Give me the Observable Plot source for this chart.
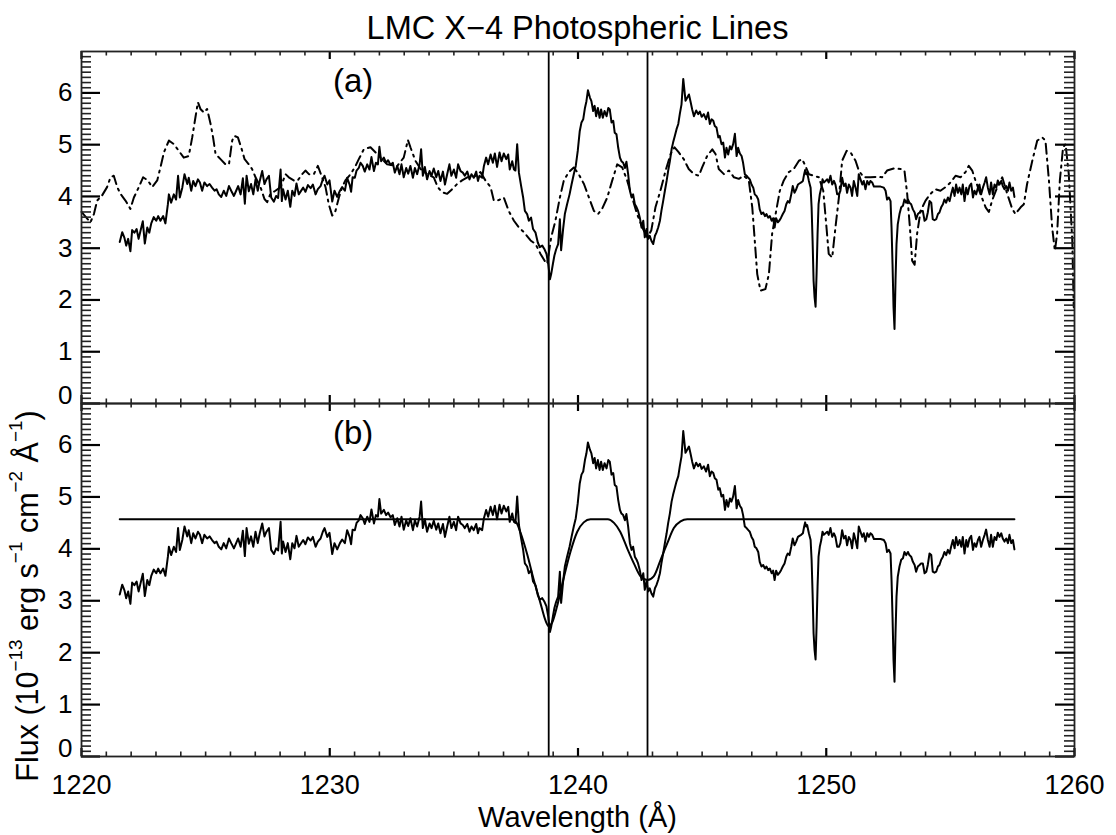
<!DOCTYPE html>
<html><head><meta charset="utf-8">
<script src="https://cdn.jsdelivr.net/npm/d3@7"></script>
<script src="https://cdn.jsdelivr.net/npm/@observablehq/plot@0.6"></script>
<style>
body{margin:0;background:#fff;}
#wrap{position:relative;width:1116px;height:835px;font-family:"Liberation Sans",Arial,Helvetica,sans-serif;color:#000;}
#wrap svg{position:absolute;left:0;top:0;}
.lbl{position:absolute;text-align:center;white-space:nowrap;pointer-events:none;}
#title{left:81px;width:993px;top:11px;font-size:32.5px;line-height:34px;}
#xlab{left:81px;width:993px;top:801px;font-size:29px;line-height:32px;}
#ylab{left:-183px;width:420px;top:579px;height:34px;font-size:30.5px;line-height:34px;transform:rotate(-90deg);transform-origin:50% 50%;}
#ylab sup{font-size:62%;vertical-align:0;position:relative;top:-0.85em;}
</style></head>
<body>
<div id="wrap">
  <div class="lbl" id="title">LMC X−4 Photospheric Lines</div>
  <div class="lbl" id="xlab">Wavelength (Å)</div>
  <div class="lbl" id="ylab">Flux (10<sup>−13</sup> erg s<sup>−1</sup> cm<sup>−2</sup> Å<sup>−1</sup>)</div>
</div>
<script>
// ---------- data ----------
const obsWave = [
1221.54,1221.64,1221.73,1221.80,1221.88,1221.97,1222.04,1222.13,1222.22,1222.30,1222.38,1222.47,1222.55,1222.65,1222.73,1222.81,1222.91,1223.01,1223.09,1223.18,
1223.29,1223.38,1223.48,1223.52,1223.61,1223.72,1223.81,1223.89,1223.96,1224.06,1224.15,1224.26,1224.32,1224.42,1224.50,1224.59,1224.69,1224.77,1224.86,1224.95,
1225.06,1225.16,1225.26,1225.36,1225.44,1225.53,1225.63,1225.73,1225.83,1225.94,1226.03,1226.14,1226.23,1226.31,1226.41,1226.50,1226.58,1226.65,1226.74,1226.83,
1226.92,1227.01,1227.10,1227.18,1227.28,1227.37,1227.45,1227.55,1227.64,1227.75,1227.84,1227.92,1228.02,1228.07,1228.12,1228.22,1228.31,1228.41,1228.49,1228.58,
1228.66,1228.75,1228.93,1229.02,1229.12,1229.23,1229.32,1229.43,1229.52,1229.63,1229.72,1229.79,1229.90,1229.99,1230.10,1230.19,1230.30,1230.41,1230.50,1230.61,
1230.70,1230.80,1230.86,1230.92,1231.01,1231.08,1231.17,1231.24,1231.33,1231.41,1231.51,1231.60,1231.68,1231.78,1231.86,1231.94,1232.00,1232.07,1232.18,1232.27,
1232.35,1232.45,1232.54,1232.62,1232.72,1232.81,1232.89,1232.98,1233.08,1233.16,1233.25,1233.35,1233.43,1233.52,1233.62,1233.68,1233.75,1233.83,1233.92,1234.02,
1234.10,1234.19,1234.29,1234.37,1234.46,1234.56,1234.64,1234.73,1234.82,1234.90,1235.00,1235.09,1235.17,1235.27,1235.36,1235.44,1235.54,1235.63,1235.71,1235.80,
1235.90,1235.97,1236.03,1236.14,1236.21,1236.30,1236.38,1236.48,1236.57,1236.65,1236.74,1236.84,1236.92,1237.01,1237.11,1237.19,1237.25,1237.35,1237.42,1237.48,
1237.55,1237.62,1237.71,1237.79,1237.86,1237.95,1238.02,1238.11,1238.19,1238.29,1238.38,1238.46,1238.56,1238.65,1238.73,1238.80,1238.87,1238.92,1238.99,1239.05,
1239.12,1239.20,1239.27,1239.32,1239.40,1239.47,1239.56,1239.66,1239.74,1239.83,1239.91,1239.99,1240.07,1240.14,1240.21,1240.28,1240.34,1240.40,1240.48,1240.54,
1240.61,1240.67,1240.73,1240.80,1240.87,1240.93,1241.00,1241.07,1241.15,1241.22,1241.28,1241.35,1241.42,1241.48,1241.55,1241.62,1241.69,1241.75,1241.82,1241.89,
1241.95,1242.02,1242.09,1242.16,1242.22,1242.29,1242.36,1242.42,1242.49,1242.56,1242.63,1242.69,1242.76,1242.83,1242.89,1242.96,1243.03,1243.10,1243.16,1243.23,
1243.30,1243.36,1243.43,1243.50,1243.57,1243.63,1243.70,1243.77,1243.83,1243.90,1243.97,1244.04,1244.10,1244.17,1244.24,1244.33,1244.47,1244.53,1244.60,1244.67,
1244.76,1244.84,1244.91,1244.98,1245.07,1245.16,1245.24,1245.31,1245.38,1245.45,1245.51,1245.58,1245.65,1245.71,1245.78,1245.85,1245.92,1245.98,1246.05,1246.12,
1246.18,1246.25,1246.32,1246.39,1246.45,1246.52,1246.59,1246.65,1246.72,1246.79,1246.86,1246.92,1246.99,1247.06,1247.12,1247.19,1247.26,1247.32,1247.39,1247.46,
1247.53,1247.59,1247.66,1247.73,1247.80,1247.86,1247.92,1247.98,1248.05,1248.12,1248.18,1248.25,1248.32,1248.39,1248.45,1248.52,1248.59,1248.65,1248.72,1248.79,
1248.86,1248.92,1248.99,1249.06,1249.11,1249.15,1249.19,1249.23,1249.30,1249.37,1249.41,1249.45,1249.49,1249.53,1249.57,1249.61,1249.65,1249.69,1249.74,1249.80,
1249.85,1249.90,1249.97,1250.04,1250.10,1250.17,1250.24,1250.31,1250.37,1250.44,1250.51,1250.57,1250.64,1250.71,1250.78,1250.84,1250.91,1250.98,1251.04,1251.11,
1251.18,1251.25,1251.31,1251.38,1251.45,1251.51,1251.58,1251.65,1251.72,1251.78,1251.85,1251.92,1252.05,1252.19,1252.32,1252.39,1252.45,1252.52,1252.59,1252.63,
1252.67,1252.71,1252.75,1252.79,1252.83,1252.88,1252.95,1253.02,1253.09,1253.15,1253.22,1253.29,1253.35,1253.42,1253.49,1253.56,1253.62,1253.69,1253.76,1253.82,
1253.89,1253.96,1254.03,1254.09,1254.16,1254.23,1254.29,1254.36,1254.43,1254.50,1254.56,1254.63,1254.70,1254.76,1254.83,1254.90,1254.97,1255.03,1255.10,1255.17,
1255.23,1255.30,1255.37,1255.44,1255.50,1255.57,1255.64,1255.70,1255.77,1255.84,1255.91,1255.97,1256.04,1256.11,1256.17,1256.24,1256.31,1256.38,1256.44,1256.51,
1256.58,1256.64,1256.71,1256.78,1256.85,1256.91,1256.98,1257.05,1257.11,1257.18,1257.25,1257.32,1257.38,1257.45,1257.52,1257.58];
const obsFlux = [
3.12,3.31,3.20,3.05,3.18,2.94,3.35,3.30,3.37,3.18,3.34,3.52,3.09,3.40,3.30,3.48,3.60,3.53,3.62,3.53,
3.62,3.48,3.85,4.04,3.88,4.04,3.94,4.40,3.98,4.17,4.43,4.24,4.36,4.11,4.30,4.20,4.33,4.27,4.11,4.27,
4.20,4.24,4.17,4.11,4.14,4.04,3.99,4.11,4.01,4.20,4.11,4.01,4.11,4.20,4.04,4.35,3.86,4.40,4.10,4.24,
4.04,4.33,4.11,4.30,4.49,4.24,4.33,4.40,3.98,3.90,4.01,3.97,4.52,3.91,4.14,3.94,4.11,3.80,4.11,4.01,
4.25,4.04,4.17,4.09,4.22,4.16,4.23,4.04,4.14,4.20,4.33,4.40,4.23,4.31,3.90,4.11,3.99,4.11,4.18,4.11,
4.36,4.23,4.09,4.37,4.36,4.50,4.55,4.65,4.59,4.48,4.62,4.52,4.76,4.49,4.65,4.62,4.96,4.68,4.75,4.65,
4.70,4.61,4.65,4.46,4.59,4.43,4.62,4.37,4.55,4.44,4.59,4.36,4.55,4.43,4.62,4.91,4.40,4.57,4.33,4.49,
4.40,4.54,4.37,4.49,4.30,4.48,4.23,4.43,4.62,4.40,4.52,4.36,4.62,4.49,4.46,4.40,4.48,4.33,4.43,4.36,
4.48,4.30,4.40,4.36,4.59,4.75,4.62,4.81,4.65,4.83,4.57,4.85,4.68,4.83,4.72,4.81,4.52,4.68,4.52,4.50,
5.01,4.46,4.20,3.98,3.72,3.66,3.53,3.59,3.37,3.30,3.11,3.02,3.05,2.98,2.89,2.70,2.40,2.50,2.70,2.86,
2.98,3.08,3.56,2.96,3.37,3.66,3.85,4.04,4.23,4.43,4.59,4.88,5.26,5.43,5.49,5.71,5.84,6.05,5.91,5.84,
5.65,5.75,5.55,5.71,5.52,5.68,5.52,5.65,5.55,5.71,5.68,5.43,5.46,5.23,5.20,4.94,4.75,4.68,4.65,4.55,
4.67,4.43,4.11,3.98,4.04,3.85,3.79,3.72,3.59,3.40,3.53,3.21,3.37,3.18,3.24,3.14,3.08,3.24,3.30,3.40,
3.53,3.72,3.91,4.11,4.30,4.49,4.68,4.91,5.04,5.17,5.30,5.40,5.59,5.78,6.27,5.85,5.97,5.84,5.68,5.55,
5.66,5.59,5.64,5.54,5.59,5.49,5.62,5.40,5.49,5.46,5.36,5.33,5.14,5.17,5.01,5.04,4.75,4.94,4.81,4.97,
4.91,5.01,5.21,4.78,4.94,4.83,4.78,4.65,4.43,4.40,4.36,4.33,4.23,4.17,4.04,4.01,3.94,3.75,3.66,3.69,
3.62,3.66,3.59,3.62,3.53,3.58,3.40,3.58,3.50,3.54,3.59,3.66,3.72,3.85,3.91,3.88,4.04,4.20,4.07,4.14,
4.23,4.25,4.27,4.30,4.43,4.51,4.43,4.46,4.30,4.17,3.79,3.14,2.37,2.05,1.87,2.50,3.27,3.85,4.04,4.17,
4.33,4.27,4.30,4.33,4.27,4.40,4.23,4.30,4.23,4.04,4.04,4.11,4.36,4.20,4.25,4.07,4.23,4.17,4.01,4.30,
4.17,4.01,4.43,4.33,4.23,4.30,4.14,4.30,4.23,4.30,4.27,4.19,4.19,4.19,4.17,4.11,3.94,3.98,3.91,3.40,
2.69,1.86,1.44,2.37,3.08,3.46,3.66,3.79,3.82,3.94,3.88,3.94,3.88,3.85,3.75,3.69,3.56,3.66,3.69,3.72,
3.72,3.53,3.56,3.69,3.91,3.88,3.56,3.54,3.56,3.66,3.69,3.79,3.85,3.94,3.88,3.98,3.91,4.04,4.17,4.01,
4.23,4.07,4.17,4.04,4.23,3.91,4.17,4.04,4.20,4.25,3.98,4.11,4.04,4.17,4.23,4.04,4.17,4.27,4.37,4.17,
4.04,4.27,4.04,4.23,4.17,4.31,4.23,4.30,4.20,4.14,4.20,4.11,4.27,4.11,4.17,3.99];

const cmpWave = [
1220.00,1220.36,1220.50,1220.63,1220.83,1221.03,1221.17,1221.30,1221.44,1221.57,1221.77,1221.97,1222.11,1222.31,1222.48,1222.67,1222.85,1223.05,1223.18,1223.32,
1223.52,1223.72,1223.92,1224.12,1224.32,1224.46,1224.59,1224.69,1224.79,1224.93,1225.06,1225.20,1225.30,1225.40,1225.60,1225.80,1225.94,1226.07,1226.16,1226.30,
1226.43,1226.57,1226.74,1226.87,1227.01,1227.21,1227.37,1227.48,1227.61,1227.81,1228.02,1228.22,1228.35,1228.55,1228.71,1228.89,1229.02,1229.16,1229.36,1229.52,
1229.69,1229.83,1229.96,1230.10,1230.23,1230.37,1230.50,1230.63,1230.84,1231.04,1231.17,1231.37,1231.64,1231.91,1232.31,1232.72,1232.98,1233.15,1233.25,1233.45,
1233.66,1233.92,1234.19,1234.35,1234.53,1234.73,1234.93,1235.13,1235.33,1235.54,1235.80,1236.07,1236.27,1236.48,1236.61,1236.81,1237.01,1237.21,1237.42,1237.62,
1237.82,1238.09,1238.29,1238.49,1238.69,1238.76,1238.92,1239.09,1239.27,1239.43,1239.63,1239.83,1240.03,1240.24,1240.44,1240.64,1240.81,1240.97,1241.18,1241.38,
1241.58,1241.78,1241.98,1242.18,1242.38,1242.59,1242.79,1242.95,1243.12,1243.32,1243.53,1243.73,1243.89,1244.06,1244.26,1244.46,1244.67,1244.87,1245.00,1245.20,
1245.41,1245.54,1245.67,1245.88,1246.08,1246.28,1246.48,1246.68,1246.88,1247.02,1247.12,1247.22,1247.35,1247.55,1247.69,1247.82,1247.96,1248.13,1248.29,1248.49,
1248.69,1248.90,1249.03,1249.16,1249.30,1249.50,1249.70,1249.88,1250.01,1250.10,1250.24,1250.37,1250.51,1250.64,1250.82,1250.98,1251.18,1251.31,1251.51,1251.78,
1252.05,1252.25,1252.45,1252.72,1252.99,1253.15,1253.26,1253.37,1253.46,1253.56,1253.66,1253.80,1254.00,1254.20,1254.40,1254.60,1254.80,1255.01,1255.21,1255.41,
1255.61,1255.74,1255.88,1256.01,1256.21,1256.42,1256.55,1256.68,1256.89,1257.09,1257.29,1257.49,1257.62,1257.83,1257.96,1258.09,1258.30,1258.50,1258.70,1258.83,
1258.97,1259.10,1259.21,1259.30,1259.41,1259.54,1259.64,1259.77,1259.91,1259.97];
const cmpFlux = [
3.70,3.50,3.66,3.92,4.02,4.18,4.37,4.40,4.18,4.05,3.92,3.76,3.98,4.18,4.37,4.31,4.18,4.31,4.56,4.85,
5.08,5.01,4.88,4.75,4.78,5.14,5.53,5.82,5.69,5.62,5.69,5.40,5.14,4.82,4.72,4.62,4.62,5.08,5.17,5.14,
4.95,4.72,4.62,4.53,4.37,4.18,3.95,3.89,4.05,4.11,4.18,4.43,4.37,4.31,4.31,4.43,4.50,4.43,4.43,4.59,
4.37,4.18,3.85,3.63,3.72,3.98,4.18,4.31,4.43,4.59,4.72,4.91,4.95,4.82,4.62,4.59,4.75,5.09,4.95,4.69,
4.53,4.43,4.37,4.18,4.08,4.05,4.14,4.24,4.31,4.37,4.37,4.47,4.31,4.18,3.92,3.93,3.98,3.72,3.53,3.40,
3.31,3.15,3.08,2.89,2.73,2.70,3.21,3.53,3.98,4.31,4.47,4.56,4.43,4.24,3.98,3.72,3.66,3.76,3.98,4.31,
4.62,4.56,4.31,3.98,3.66,3.40,3.21,3.34,3.79,4.11,4.50,4.82,4.95,4.85,4.72,4.53,4.43,4.40,4.56,4.78,
4.91,4.82,4.53,4.43,4.50,4.37,4.34,4.40,4.31,3.79,3.15,2.50,2.18,2.21,2.50,3.28,3.66,4.11,4.31,4.47,
4.53,4.69,4.72,4.59,4.43,4.40,4.37,4.11,3.40,2.89,2.82,3.40,3.98,4.69,4.88,4.85,4.69,4.50,4.37,4.37,
4.38,4.37,4.50,4.54,4.53,4.50,4.05,3.40,2.76,2.68,3.28,3.72,3.92,4.05,4.14,4.11,4.18,4.27,4.40,4.37,
4.47,4.59,4.50,4.31,4.05,3.79,3.70,3.92,4.18,4.37,4.05,3.76,3.66,3.79,3.85,4.24,4.69,5.08,5.14,5.08,
4.31,3.40,2.95,3.28,4.31,4.95,5.01,4.43,3.15,1.86];

const modelWave = [1221.54,1237.30,1237.50,1237.68,1237.95,1238.22,1238.49,1238.69,1238.82,1238.96,1239.16,1239.43,1239.70,1239.97,1240.23,1240.50,
1241.20,1241.45,1241.70,1241.99,1242.25,1242.52,1242.80,1243.05,1243.32,1243.59,1243.86,1244.13,1244.40,1257.58];
const modelFlux = [4.57,4.57,4.52,4.32,3.90,3.40,2.95,2.62,2.51,2.58,2.90,3.45,3.95,4.33,4.51,4.57,
4.57,4.50,4.33,4.00,3.72,3.47,3.40,3.47,3.78,4.10,4.40,4.53,4.57,4.57];

const lineWaves = [1238.82, 1242.80];          // N V doublet markers
const xTicksMajor = [1220, 1230, 1240, 1250, 1260];
const yTicksMajor = [0, 1, 2, 3, 4, 5, 6];
const panelNames = ["(a)", "(b)"];

// ---------- layout ----------
const W = 1116, H = 835;
const mL = 81, mR = 42;
const frameTopA = 51, frameMid = 403, frameBotB = 756;
const plotW = W - mL - mR;
const XA = 1220, XB = 1260, YA = 0, YB = 6.8;
const xTicksMinor = d3.range(1221, 1260, 1).filter(v => v % 10 !== 0);
const yTicksMinor = d3.range(1, 68, 1).filter(v => v % 10 !== 0).map(v => v / 10);

const obs = obsWave.map((w, i) => ({w, f: obsFlux[i]}));
const cmp = cmpWave.map((w, i) => ({w, f: cmpFlux[i]}));
const model = modelWave.map((w, i) => ({w, f: modelFlux[i]}));

const scaleOpts = {x: {domain: [XA, XB], axis: null}, y: {domain: [YA, YB], axis: null}};

// axes layer for one panel: IDL-style inward ticks on all four sides, frame and tick labels
function axesPlot(top, bottom, showX) {
  const plotH = bottom - top;
  const kx = plotW / (XB - XA), ky = plotH / (YB - YA);
  const majX = 19 / kx, minX = 10 / kx, majY = 8 / ky, minY = 4.5 / ky;
  const marks = [
    Plot.ruleY(yTicksMinor, {y: d => d, x1: XA, x2: XA + minX, stroke: "#222", strokeWidth: 1.6}),
    Plot.ruleY(yTicksMinor, {y: d => d, x1: XB - minX, x2: XB, stroke: "#222", strokeWidth: 1.6}),
    Plot.ruleY(yTicksMajor, {y: d => d, x1: XA, x2: XA + majX, stroke: "black", strokeWidth: 2.2}),
    Plot.ruleY(yTicksMajor, {y: d => d, x1: XB - majX, x2: XB, stroke: "black", strokeWidth: 2.2}),
    Plot.ruleX(xTicksMinor, {x: d => d, y1: YA, y2: YA + minY, stroke: "#222", strokeWidth: 1.6}),
    Plot.ruleX(xTicksMinor, {x: d => d, y1: YB - minY, y2: YB, stroke: "#222", strokeWidth: 1.6}),
    Plot.ruleX(xTicksMajor, {x: d => d, y1: YA, y2: YA + majY, stroke: "black", strokeWidth: 2.2}),
    Plot.ruleX(xTicksMajor, {x: d => d, y1: YB - majY, y2: YB, stroke: "black", strokeWidth: 2.2}),
    Plot.frame({stroke: "#222", strokeWidth: 1.8}),
    Plot.text(yTicksMajor.filter(d => d > 0), {y: d => d, text: d => String(d), frameAnchor: "left", textAnchor: "end", dx: -9, fontSize: 26}),
    Plot.text([0], {y: d => d, text: d => String(d), frameAnchor: "left", textAnchor: "end", dx: -9, dy: -8, fontSize: 26})
  ];
  if (showX) marks.push(Plot.text(xTicksMajor, {x: d => d, text: d => String(d), frameAnchor: "bottom", dy: 37, fontSize: 27}));
  return Plot.plot({
    width: W, height: H, marginLeft: mL, marginRight: mR, marginTop: top, marginBottom: H - bottom,
    ...scaleOpts,
    style: {background: "transparent", fontFamily: "'Liberation Sans', Arial, Helvetica, sans-serif"},
    marks
  });
}

function dataPlot(top, bottom, marks) {
  return Plot.plot({
    width: W, height: H, marginLeft: mL, marginRight: mR, marginTop: top, marginBottom: H - bottom,
    ...scaleOpts,
    style: {background: "transparent", fontFamily: "'Liberation Sans', Arial, Helvetica, sans-serif"},
    marks
  });
}

const dataA = dataPlot(frameTopA, frameMid, [
  Plot.line(cmp, {x: "w", y: "f", stroke: "black", strokeWidth: 2, strokeDasharray: "10,5,2,5"}),
  Plot.line(obs, {x: "w", y: "f", stroke: "black", strokeWidth: 2}),
  Plot.ruleX(lineWaves, {x: d => d, stroke: "black", strokeWidth: 1.8}),
  Plot.text([panelNames[0]], {x: 1230.94, y: 6.22, text: d => d, fontSize: 33})
]);
const dataB = dataPlot(frameMid, frameBotB, [
  Plot.line(model, {x: "w", y: "f", stroke: "black", strokeWidth: 2, curve: "monotone-x"}),
  Plot.line(obs, {x: "w", y: "f", stroke: "black", strokeWidth: 2}),
  Plot.ruleX(lineWaves, {x: d => d, stroke: "black", strokeWidth: 1.8}),
  Plot.text([panelNames[1]], {x: 1230.94, y: 6.22, text: d => d, fontSize: 33})
]);
const axA = axesPlot(frameTopA, frameMid, false);
const axB = axesPlot(frameMid, frameBotB, true);

const wrap = document.getElementById("wrap");
const first = wrap.firstChild;
[dataA, dataB, axA, axB].forEach(el => wrap.insertBefore(el, first));
</script>
</body></html>
